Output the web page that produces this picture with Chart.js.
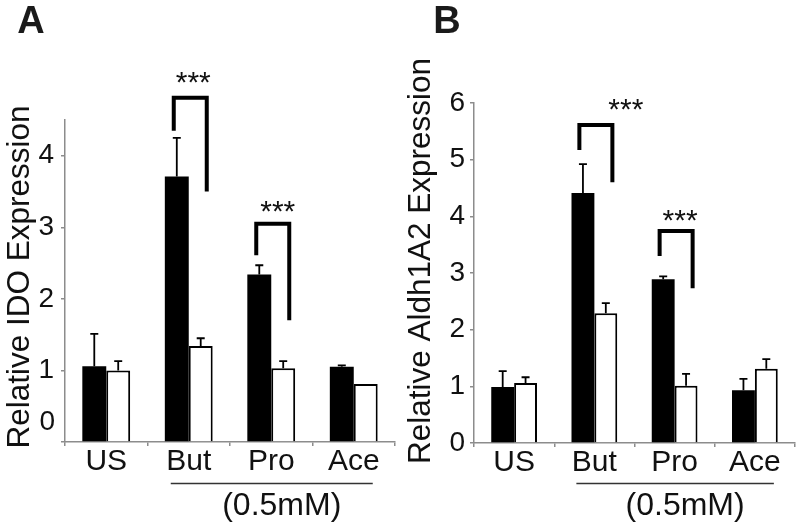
<!DOCTYPE html>
<html>
<head>
<meta charset="utf-8">
<script src="https://cdn.jsdelivr.net/npm/chart.js@4.4.1/dist/chart.umd.min.js"></script>
<style>
  html, body { margin: 0; padding: 0; background: #fff; }
  #wrap { position: relative; width: 800px; height: 523px; }
  canvas { position: absolute; top: 0; }
</style>
</head>
<body>
<div id="wrap">
  <canvas id="chartA" width="400" height="523" style="left:0"></canvas>
  <canvas id="chartB" width="400" height="523" style="left:400px"></canvas>
</div>
<script>
// categories shared by both panels
const categories = ["US", "But", "Pro", "Ace"];

// panel A - Relative IDO Expression
const idoBlack = [1.06, 3.71, 2.34, 1.05];
const idoBlackErr = [0.45, 0.54, 0.13, 0.02];
const idoWhite = [1.00, 1.34, 1.03, 0.81];
const idoWhiteErr = [0.13, 0.11, 0.10, 0];
const idoMax = 4.5;
// significance brackets (category index, bracket top, left leg end, right leg end, stars)
const idoSigCat = [1, 2];
const idoSigTop = [4.81, 3.05];
const idoSigLeft = [4.35, 2.61];
const idoSigRight = [3.50, 1.70];
const idoSigStar = [5.13, 3.33];

// panel B - Relative Aldh1A2 Expression
const aldhBlack = [0.99, 4.41, 2.89, 0.93];
const aldhBlackErr = [0.28, 0.51, 0.05, 0.20];
const aldhWhite = [1.06, 2.29, 1.01, 1.31];
const aldhWhiteErr = [0.10, 0.18, 0.21, 0.17];
const aldhMax = 6;
const aldhSigCat = [1, 2];
const aldhSigTop = [5.61, 3.74];
const aldhSigLeft = [5.17, 3.30];
const aldhSigRight = [4.60, 2.73];
const aldhSigStar = [6.01, 4.06];

const FONT = "'Liberation Sans', Arial, Helvetica, sans-serif";

// draws error bars, brackets, stars, titles and the (0.5mM) underline
function makePanelPlugin(cfg) {
  return {
    id: "panel" + cfg.letter,
    afterDatasetsDraw(chart) {
      const ctx = chart.ctx;
      const y = chart.scales.y;
      ctx.save();
      ctx.strokeStyle = "#000";
      ctx.lineWidth = 1.8;
      cfg.errors.forEach((errs, i) => {
        const meta = chart.getDatasetMeta(i);
        const vals = chart.data.datasets[i].data;
        meta.data.forEach((bar, j) => {
          if (!errs[j]) return;
          const top = y.getPixelForValue(vals[j] + errs[j]);
          ctx.beginPath();
          ctx.moveTo(bar.x, bar.y);
          ctx.lineTo(bar.x, top);
          ctx.moveTo(bar.x - 4, top);
          ctx.lineTo(bar.x + 4, top);
          ctx.stroke();
        });
      });
      ctx.restore();
    },
    afterDraw(chart) {
      const ctx = chart.ctx;
      const x = chart.scales.x, y = chart.scales.y;
      const area = chart.chartArea;
      ctx.save();

      // brackets + stars
      cfg.sig.cat.forEach((c, k) => {
        const cx = x.getPixelForValue(c);
        const xl = cx - 15, xr = cx + 18;
        const yt = y.getPixelForValue(cfg.sig.top[k]);
        ctx.strokeStyle = "#000";
        ctx.lineWidth = 4;
        ctx.lineJoin = "miter";
        ctx.beginPath();
        ctx.moveTo(xl, y.getPixelForValue(cfg.sig.left[k]));
        ctx.lineTo(xl, yt);
        ctx.lineTo(xr, yt);
        ctx.lineTo(xr, y.getPixelForValue(cfg.sig.right[k]));
        ctx.stroke();
        ctx.fillStyle = "#111";
        ctx.font = "30px " + FONT;
        ctx.textAlign = "center";
        ctx.textBaseline = "alphabetic";
        ctx.fillText("***", (xl + xr) / 2 + cfg.starDx[k], y.getPixelForValue(cfg.sig.star[k]) + 17);
      });

      // underline + concentration
      const u0 = x.getPixelForValue(1) - 18, u1 = x.getPixelForValue(3) + 19;
      ctx.strokeStyle = "#333";
      ctx.lineWidth = 1.5;
      ctx.beginPath();
      ctx.moveTo(u0, 483.5);
      ctx.lineTo(u1, 483.5);
      ctx.stroke();
      ctx.fillStyle = "#111";
      ctx.font = "32px " + FONT;
      ctx.textAlign = "center";
      ctx.textBaseline = "middle";
      ctx.fillText("(0.5mM)", (u0 + u1) / 2 + 10, 506);

      // misplaced zero label of panel A
      if (cfg.zeroAt !== undefined) {
        ctx.font = "28px " + FONT;
        ctx.textAlign = "right";
        ctx.fillText("0", area.left - 10, y.getPixelForValue(cfg.zeroAt));
      }

      // y title
      ctx.save();
      ctx.translate(cfg.titleX, cfg.titleY);
      ctx.rotate(-Math.PI / 2);
      ctx.font = "31.5px " + FONT;
      ctx.textAlign = "center";
      ctx.textBaseline = "middle";
      ctx.fillText(cfg.title, 0, 0);
      ctx.restore();

      // panel letter
      ctx.font = "bold 38px " + FONT;
      ctx.textAlign = "center";
      ctx.textBaseline = "middle";
      ctx.fillStyle = "#1a1a1a";
      ctx.fillText(cfg.letter, cfg.letterX, 23);
      ctx.restore();
    }
  };
}

function makeChart(id, black, white, max, step, tickCb, layout, plugin) {
  return new Chart(document.getElementById(id), {
    type: "bar",
    data: {
      labels: categories,
      datasets: [
        {
          data: black,
          backgroundColor: "#000",
          borderColor: "#000",
          borderWidth: 0,
          categoryPercentage: layout.catPct,
          barPercentage: 1
        },
        {
          data: white,
          backgroundColor: "#fff",
          borderColor: "#000",
          borderWidth: 2,
          borderSkipped: "bottom",
          categoryPercentage: layout.catPct,
          barPercentage: 1
        }
      ]
    },
    options: {
      responsive: false,
      animation: false,
      layout: { padding: { top: layout.top, right: layout.right, left: 0, bottom: 0 } },
      plugins: { legend: { display: false }, tooltip: { enabled: false } },
      scales: {
        x: {
          border: { color: "#8c8c8c", width: 1.5 },
          grid: { drawOnChartArea: false, tickLength: 4, color: "#8c8c8c", lineWidth: 1.5 },
          ticks: { color: "#111", font: { family: FONT, size: 30 }, padding: -2, maxRotation: 0 },
          afterFit(scale) { scale.height = layout.xHeight; }
        },
        y: {
          min: 0,
          max: max,
          border: { color: "#8c8c8c", width: 1.5 },
          grid: { drawOnChartArea: false, tickLength: 4, color: "#8c8c8c", lineWidth: 1.5 },
          ticks: {
            stepSize: step,
            color: "#111",
            font: { family: FONT, size: 28 },
            padding: layout.tickPad,
            callback: tickCb
          },
          afterFit(scale) { scale.width = layout.yWidth; }
        }
      }
    },
    plugins: [plugin]
  });
}

makeChart("chartA", idoBlack, idoWhite, idoMax, 0.5,
  v => (Number.isInteger(v) && v > 0 ? String(v) : ""),
  { top: 120, right: 5, xHeight: 81, yWidth: 65, tickPad: 7, catPct: 0.58 },
  makePanelPlugin({
    letter: "A", letterX: 31, title: "Relative IDO Expression", titleX: 20, titleY: 277,
    errors: [idoBlackErr, idoWhiteErr],
    sig: { cat: idoSigCat, top: idoSigTop, left: idoSigLeft, right: idoSigRight, star: idoSigStar },
    starDx: [3, 5], zeroAt: 0.27
  }));

makeChart("chartB", aldhBlack, aldhWhite, aldhMax, 1,
  v => String(v),
  { top: 103, right: 5, xHeight: 80, yWidth: 74, tickPad: 5, catPct: 0.57 },
  makePanelPlugin({
    letter: "B", letterX: 47, title: "Relative Aldh1A2 Expression", titleX: 21, titleY: 261,
    errors: [aldhBlackErr, aldhWhiteErr],
    sig: { cat: aldhSigCat, top: aldhSigTop, left: aldhSigLeft, right: aldhSigRight, star: aldhSigStar },
    starDx: [30, 4]
  }));
</script>
</body>
</html>
